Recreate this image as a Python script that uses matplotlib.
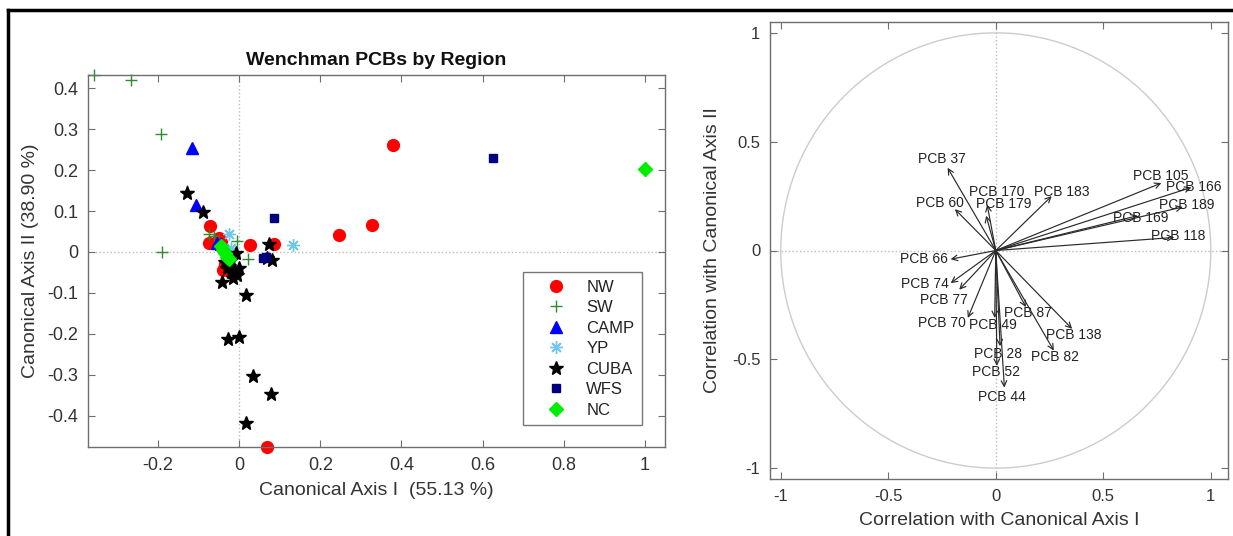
import numpy as np
import matplotlib
matplotlib.use("Agg")
import matplotlib.pyplot as plt
from matplotlib.lines import Line2D
from matplotlib.patches import Circle

plt.rcParams['font.family'] = ['Liberation Sans', 'DejaVu Sans']

# ---------------- data: left panel (canonical scores by region) ----------------
nw_x = [0.38, 0.327, 0.247, 0.027, 0.086, -0.072, -0.073, -0.050, -0.045, -0.040, -0.035, 0.068]
nw_y = [0.26, 0.066, 0.042, 0.017, 0.020, 0.064, 0.021, 0.033, 0.025, -0.043, -0.030, -0.475]

sw_x = [-0.357, -0.266, -0.192, -0.190, -0.128, -0.075, -0.062, -0.005, 0.023]
sw_y = [0.432, 0.420, 0.288, 0.000, 0.150, 0.045, 0.040, 0.027, -0.018]

camp_x = [-0.116, -0.106, -0.055, -0.045]
camp_y = [0.254, 0.115, 0.023, 0.020]

yp_x = [-0.025, 0.133, -0.020]
yp_y = [0.045, 0.017, 0.010]

cuba_x = [-0.128, -0.090, -0.008, 0.074, 0.080, 0.070, -0.042, -0.015, 0.017, -0.027,
          0.000, 0.034, 0.079, 0.017, -0.035, -0.025, -0.015, -0.010, -0.020, 0.000,
          -0.005, -0.030, -0.020]
cuba_y = [0.143, 0.098, -0.003, 0.020, -0.020, -0.015, -0.073, -0.063, -0.105, -0.212,
          -0.207, -0.302, -0.346, -0.418, -0.025, -0.035, -0.040, -0.050, -0.050, -0.040,
          -0.055, -0.040, -0.020]

wfs_x = [0.626, 0.086, 0.066, 0.060]
wfs_y = [0.230, 0.082, -0.012, -0.015]

nc_x = [1.000, -0.045, -0.040, -0.035, -0.030, -0.025]
nc_y = [0.202, 0.015, 0.005, -0.003, -0.012, -0.018]

regions = ['NW', 'SW', 'CAMP', 'YP', 'CUBA', 'WFS', 'NC']

# ---------------- data: right panel (correlations of PCBs) ----------------
pcb_names = ['PCB 37', 'PCB 60', 'PCB 170', 'PCB 179', 'PCB 183', 'PCB 105', 'PCB 166',
             'PCB 189', 'PCB 169', 'PCB 118', 'PCB 66', 'PCB 74', 'PCB 77', 'PCB 70',
             'PCB 49', 'PCB 87', 'PCB 138', 'PCB 82', 'PCB 28', 'PCB 52', 'PCB 44']
pcb_x = [-0.224, -0.190, -0.040, -0.045, 0.260, 0.770, 0.910, 0.870, 0.660, 0.830,
         -0.210, -0.210, -0.170, -0.130, -0.005, 0.140, 0.355, 0.270, 0.020, 0.005, 0.040]
pcb_y = [0.380, 0.190, 0.210, 0.160, 0.250, 0.310, 0.290, 0.200, 0.160, 0.060,
         -0.040, -0.150, -0.180, -0.310, -0.310, -0.260, -0.360, -0.460, -0.440, -0.530, -0.630]

# label offsets from arrow tips (pixels) - styling only
label_off = [(-6, 9), (-15, 6), (10, 13), (18, 12), (10, 4), (-1, 7), (2, 0),
             (4, 2), (3, -2), (4, 1), (-27, 0), (-26, -1), (-15, -10), (-26, -5),
             (-2, -7), (2, -6), (2, -6), (1, -6), (-2, -8), (-1, -6), (-2, -9)]

# ---------------- figure ----------------
W, H = 1233, 536
fig = plt.figure(figsize=(W / 100, H / 100), dpi=100)
fig.patch.set_facecolor('white')

spine_c = '#6e6e6e'
text_c = '#333333'

def style_axes(ax, fs):
    for s in ax.spines.values():
        s.set_color(spine_c)
        s.set_linewidth(1.0)
    ax.tick_params(direction='in', length=5, width=0.8, color=spine_c,
                   labelcolor=text_c, labelsize=fs, top=True, right=True, pad=7)

# ---- left panel ----
ax1 = fig.add_axes([88 / W, 1 - 447 / H, (665 - 88) / W, (447 - 75) / H])
style_axes(ax1, 13)
ax1.axhline(0, color='#bbbbbb', lw=1, ls=':', zorder=0)
ax1.axvline(0, color='#bbbbbb', lw=1, ls=':', zorder=0)

asterisk = (8, 2, 0)
kw = dict(ls='none', clip_on=False)
ax1.plot(nw_x, nw_y, 'o', color='#ff0000', ms=8.5, mec='#ff0000', label=regions[0], **kw)
ax1.plot(sw_x, sw_y, '+', color='#2e8b2e', ms=9, mew=1.0, label=regions[1], **kw)
ax1.plot(camp_x, camp_y, '^', color='#0000ff', ms=8.5, label=regions[2], **kw)
ax1.plot(yp_x, yp_y, marker=asterisk, color='#6ec6ea', ms=9, mew=1.0, label=regions[3], **kw)
ax1.plot(cuba_x, cuba_y, '*', color='#000000', ms=10, label=regions[4], **kw)
ax1.plot(wfs_x, wfs_y, 's', color='#000080', ms=5.5, label=regions[5], **kw)
ax1.plot(nc_x, nc_y, 'D', color='#00ee00', ms=7, label=regions[6], **kw)

ax1.set_xlim(-0.372, 1.049)
ax1.set_ylim(-0.476, 0.432)
ax1.set_xticks([-0.2, 0, 0.2, 0.4, 0.6, 0.8, 1])
ax1.set_xticklabels(['-0.2', '0', '0.2', '0.4', '0.6', '0.8', '1'])
ax1.set_yticks([-0.4, -0.3, -0.2, -0.1, 0, 0.1, 0.2, 0.3, 0.4])
ax1.set_yticklabels(['-0.4', '-0.3', '-0.2', '-0.1', '0', '0.1', '0.2', '0.3', '0.4'])
ax1.set_title('Wenchman PCBs by Region', fontsize=14, fontweight='bold', color='#111111', pad=7)
ax1.set_xlabel('Canonical Axis I  (55.13 %)', fontsize=14, color=text_c, labelpad=6)
ax1.set_ylabel('Canonical Axis II (38.90 %)', fontsize=14, color=text_c, labelpad=6)

leg = ax1.legend(loc='lower right', bbox_to_anchor=(0.96, 0.059), fontsize=12,
                 frameon=True, fancybox=False, edgecolor='#555555', handletextpad=0.33,
                 labelspacing=0.33, borderpad=0.45, handlelength=3.0, borderaxespad=0)
leg.get_frame().set_linewidth(1.0)
for t in leg.get_texts():
    t.set_color('#222222')

# ---- right panel ----
ax2 = fig.add_axes([770 / W, 1 - 479 / H, (1228 - 770) / W, (479 - 22) / H])
style_axes(ax2, 12)
ax2.axhline(0, color='#bbbbbb', lw=1, ls=':', zorder=0)
ax2.axvline(0, color='#bbbbbb', lw=1, ls=':', zorder=0)
ax2.add_patch(Circle((0, 0), 1.0, fill=False, ec='#cccccc', lw=1.0, zorder=1))

for name, x, y, (dx, dy) in zip(pcb_names, pcb_x, pcb_y, label_off):
    ax2.annotate('', xy=(x, y), xytext=(0, 0),
                 arrowprops=dict(arrowstyle='->', color='#2a2a2a', lw=0.85,
                                 shrinkA=0, shrinkB=0, mutation_scale=10))
    ax2.annotate(name, xy=(x, y), xytext=(dx, dy), textcoords='offset pixels',
                 ha='center', va='center', fontsize=10, color='#222222')

ax2.set_xlim(-1.05, 1.08)
ax2.set_ylim(-1.05, 1.05)
ax2.set_xticks([-1, -0.5, 0, 0.5, 1])
ax2.set_xticklabels(['-1', '-0.5', '0', '0.5', '1'])
ax2.set_yticks([-1, -0.5, 0, 0.5, 1])
ax2.set_yticklabels(['-1', '-0.5', '0', '0.5', '1'])
ax2.set_xlabel('Correlation with Canonical Axis I', fontsize=14, color=text_c, labelpad=6)
ax2.set_ylabel('Correlation with Canonical Axis II', fontsize=14, color=text_c, labelpad=8)

# ---- outer frame lines ----
fig.add_artist(Line2D([8 / W, 1.0], [1 - 10 / H, 1 - 10 / H], transform=fig.transFigure,
                      color='black', lw=2.5))
fig.add_artist(Line2D([8 / W, 8 / W], [0, 1 - 10 / H], transform=fig.transFigure,
                      color='black', lw=2.5))

fig.savefig('out.png', dpi=100, facecolor='white')
